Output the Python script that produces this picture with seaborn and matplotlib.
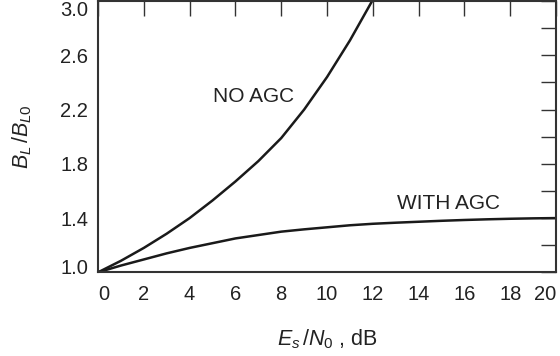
import matplotlib
matplotlib.use("Agg")
import matplotlib.pyplot as plt
from matplotlib.ticker import MultipleLocator
from matplotlib.transforms import ScaledTranslation
import seaborn as sns
import pandas as pd

# Loop bandwidth ratio versus symbol SNR
snr_no_agc = [0, 1, 2, 3, 4, 5, 6, 7, 8, 9, 10, 11, 12]
bl_no_agc = [1.0, 1.085, 1.18, 1.285, 1.40, 1.53, 1.67, 1.82, 1.99, 2.20, 2.44, 2.71, 3.01]

snr_agc = [0, 1, 2, 3, 4, 5, 6, 7, 8, 9, 10, 11, 12, 13, 14, 15, 16, 17, 18, 19, 20]
bl_agc = [1.0, 1.05, 1.095, 1.14, 1.18, 1.215, 1.25, 1.275, 1.30, 1.317, 1.332, 1.347,
          1.358, 1.366, 1.373, 1.38, 1.386, 1.391, 1.395, 1.398, 1.40]

x_ticks = [0, 2, 4, 6, 8, 10, 12, 14, 16, 18, 20]
y_ticks = [1.0, 1.4, 1.8, 2.2, 2.6, 3.0]

sns.set_theme(style="white")
plt.rcParams["font.family"] = ["Liberation Sans", "DejaVu Sans"]
plt.rcParams["mathtext.fontset"] = "custom"
plt.rcParams["mathtext.it"] = "Liberation Sans:italic"
plt.rcParams["mathtext.rm"] = "Liberation Sans"

df = pd.concat([
    pd.DataFrame({"snr": snr_no_agc, "bl": bl_no_agc, "mode": "NO AGC"}),
    pd.DataFrame({"snr": snr_agc, "bl": bl_agc, "mode": "WITH AGC"}),
])

fig = plt.figure(figsize=(5.6, 3.56), dpi=100)
ax = fig.add_axes([0.175, 0.235, 0.818, 0.762])

sns.lineplot(data=df, x="snr", y="bl", units="mode", estimator=None,
             color="#1a1a1a", linewidth=1.8, legend=False, ax=ax)
for ln in ax.lines:
    ln.set_solid_joinstyle("round")
    ln.set_solid_capstyle("round")

ax.set_xlim(0, 20)
ax.set_ylim(1.0, 3.0)
ax.set_xticks(x_ticks)
ax.set_xticklabels([str(t) for t in x_ticks])
ax.set_yticks(y_ticks)
ax.set_yticklabels([f"{t:.1f}" for t in y_ticks])
ax.yaxis.set_minor_locator(MultipleLocator(0.2))

ax.tick_params(axis="both", which="both", direction="in", length=10.5, width=1.0,
               color="#333333", top=True, right=True, labelsize=14.5,
               labelcolor="#222222")
ax.tick_params(axis="x", pad=9)
ax.tick_params(axis="y", pad=7)

# keep the end labels inside the canvas
xl = ax.get_xticklabels()
xl[0].set_ha("left")
xl[-1].set_ha("right")
yl = ax.get_yticklabels()
yl[0].set_transform(yl[0].get_transform() + ScaledTranslation(0, 4 / 72, fig.dpi_scale_trans))
yl[-1].set_va("top")

for s in ax.spines.values():
    s.set_linewidth(1.5)
    s.set_color("#333333")

ax.set_xlabel(r"$E_s\,/N_0$ , dB", fontsize=15.5, color="#222222", labelpad=17)
ax.set_ylabel(r"$B_L\,/B_{L0}$", fontsize=15.5, color="#222222", labelpad=19)

ax.text(6.8, 2.30, "NO AGC", ha="center", va="center", fontsize=15, color="#222222")
ax.text(15.3, 1.51, "WITH AGC", ha="center", va="center", fontsize=15, color="#222222")

fig.savefig("out.png", dpi=100)
